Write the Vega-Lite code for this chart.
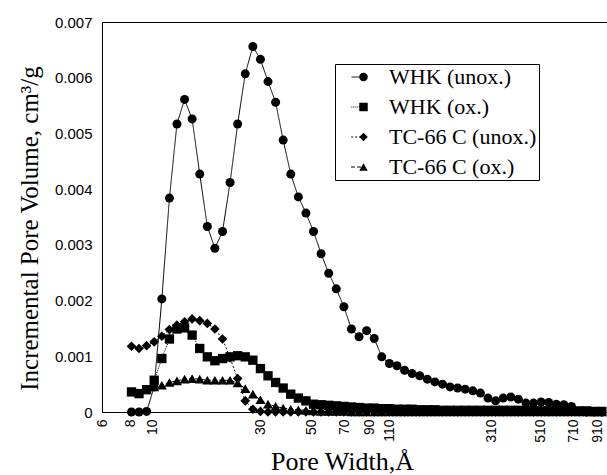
{
  "$schema": "https://vega.github.io/schema/vega-lite/v6.json",
  "width": 505,
  "height": 390,
  "autosize": {"type": "none"},
  "padding": {"left": 102, "top": 22, "right": 0, "bottom": 63},
  "background": "white",
  "config": {
    "view": {"stroke": "black", "strokeWidth": 1},
    "axis": {"grid": false, "domainColor": "black", "domainWidth": 1, "ticks": false, "labelColor": "black", "titleColor": "black", "labelFont": "Liberation Sans", "labelFontSize": 14, "titleFont": "Liberation Serif", "titleFontSize": 25, "titleFontWeight": "normal"}
  },
  "data": {"values": [
    {"w": 8.09, "a": 0, "b": 0.00036, "c": 0.00118, "d": null},
    {"w": 8.73, "a": 0, "b": 0.00033, "c": 0.00114, "d": null},
    {"w": 9.43, "a": 0.00001, "b": 0.0004, "c": 0.00119, "d": null},
    {"w": 10.18, "a": 0.00045, "b": 0.00057, "c": 0.00126, "d": 0.00045},
    {"w": 11.0, "a": 0.00203, "b": 0.00096, "c": 0.00136, "d": 0.00048},
    {"w": 11.88, "a": 0.00384, "b": 0.00131, "c": 0.00148, "d": 0.00053},
    {"w": 12.82, "a": 0.00517, "b": 0.00149, "c": 0.00156, "d": 0.00056},
    {"w": 13.85, "a": 0.00561, "b": 0.00151, "c": 0.00162, "d": 0.00059},
    {"w": 14.95, "a": 0.00526, "b": 0.00138, "c": 0.00167, "d": 0.0006},
    {"w": 16.15, "a": 0.00427, "b": 0.00114, "c": 0.00164, "d": 0.00059},
    {"w": 17.44, "a": 0.00333, "b": 0.00099, "c": 0.00159, "d": 0.00057},
    {"w": 18.83, "a": 0.00294, "b": 0.00092, "c": 0.00149, "d": 0.00057},
    {"w": 20.34, "a": 0.00324, "b": 0.00096, "c": 0.00131, "d": 0.00057},
    {"w": 21.96, "a": 0.00412, "b": 0.00099, "c": 0.00097, "d": 0.00057},
    {"w": 23.71, "a": 0.00517, "b": 0.00101, "c": 0.0006, "d": 0.00052},
    {"w": 25.61, "a": 0.00607, "b": 0.00099, "c": 0.0002, "d": 0.00042},
    {"w": 27.66, "a": 0.00656, "b": 0.00093, "c": 0.00005, "d": 0.00032},
    {"w": 29.87, "a": 0.00633, "b": 0.00078, "c": 0.00001, "d": 0.00022},
    {"w": 32.25, "a": 0.00593, "b": 0.00065, "c": 0, "d": 0.00014},
    {"w": 34.83, "a": 0.00556, "b": 0.00053, "c": 0, "d": 0.0001},
    {"w": 37.61, "a": 0.00488, "b": 0.00043, "c": 0, "d": 0.00007},
    {"w": 40.61, "a": 0.00427, "b": 0.00032, "c": 0, "d": 0.00005},
    {"w": 43.86, "a": 0.00386, "b": 0.00025, "c": 0, "d": 0.00004},
    {"w": 47.36, "a": 0.00357, "b": 0.0002, "c": 0, "d": 0.00003},
    {"w": 51.14, "a": 0.00324, "b": 0.00014, "c": 0, "d": 0.00002},
    {"w": 55.23, "a": 0.00284, "b": 0.00013, "c": 0, "d": 0.00001},
    {"w": 59.64, "a": 0.00249, "b": 0.00012, "c": 0, "d": 0.00001},
    {"w": 64.4, "a": 0.00221, "b": 0.00011, "c": 0, "d": 0.00001},
    {"w": 69.55, "a": 0.00189, "b": 0.0001, "c": 0, "d": 0.00001},
    {"w": 75.1, "a": 0.00149, "b": 0.00009, "c": 0, "d": 0},
    {"w": 81.1, "a": 0.00135, "b": 0.00008, "c": 0, "d": 0},
    {"w": 87.58, "a": 0.00146, "b": 0.00007, "c": 0, "d": 0},
    {"w": 94.58, "a": 0.00132, "b": 0.00007, "c": 0, "d": 0},
    {"w": 102.1, "a": 0.00099, "b": 0.00006, "c": 0, "d": 0},
    {"w": 110.3, "a": 0.00087, "b": 0.00006, "c": 0, "d": 0},
    {"w": 119.1, "a": 0.00083, "b": 0.00005, "c": 0, "d": 0},
    {"w": 128.6, "a": 0.00075, "b": 0.00005, "c": 0, "d": 0},
    {"w": 138.9, "a": 0.00069, "b": 0.00005, "c": 0, "d": 0},
    {"w": 150.0, "a": 0.00065, "b": 0.00004, "c": 0, "d": 0},
    {"w": 162.0, "a": 0.00059, "b": 0.00004, "c": 0, "d": 0},
    {"w": 174.9, "a": 0.00054, "b": 0.00004, "c": 0, "d": 0},
    {"w": 188.9, "a": 0.0005, "b": 0.00003, "c": 0, "d": 0},
    {"w": 203.9, "a": 0.00045, "b": 0.00003, "c": 0, "d": 0},
    {"w": 220.3, "a": 0.00043, "b": 0.00003, "c": 0, "d": 0},
    {"w": 237.8, "a": 0.00041, "b": 0.00003, "c": 0, "d": 0},
    {"w": 256.8, "a": 0.00038, "b": 0.00003, "c": 0, "d": 0},
    {"w": 277.4, "a": 0.00034, "b": 0.00003, "c": 0, "d": 0},
    {"w": 299.5, "a": 0.00025, "b": 0.00003, "c": 0, "d": 0},
    {"w": 323.5, "a": 0.0002, "b": 0.00003, "c": 0, "d": 0},
    {"w": 349.3, "a": 0.00025, "b": 0.00003, "c": 0, "d": 0},
    {"w": 377.2, "a": 0.00027, "b": 0.00003, "c": 0, "d": 0},
    {"w": 407.4, "a": 0.00023, "b": 0.00003, "c": 0, "d": 0},
    {"w": 439.9, "a": 0.00016, "b": 0.00002, "c": 0, "d": 0},
    {"w": 475.1, "a": 0.00016, "b": 0.00002, "c": 0, "d": 0},
    {"w": 513.0, "a": 0.00018, "b": 0.00002, "c": 0, "d": 0},
    {"w": 554.0, "a": 0.00017, "b": 0.00002, "c": 0, "d": 0},
    {"w": 598.3, "a": 0.00014, "b": 0.00002, "c": 0, "d": 0},
    {"w": 646.1, "a": 0.00013, "b": 0.00002, "c": 0, "d": 0},
    {"w": 697.6, "a": 0.0001, "b": 0.00002, "c": 0, "d": 0},
    {"w": 753.4, "a": 0.00001, "b": 0.00002, "c": 0, "d": 0},
    {"w": 813.6, "a": 0, "b": 0.00002, "c": 0, "d": 0},
    {"w": 878.5, "a": 0, "b": 0.00001, "c": 0, "d": 0},
    {"w": 948.7, "a": 0, "b": 0.00001, "c": 0, "d": 0}
  ]},
  "transform": [{"fold": ["a", "b", "c", "d"], "as": ["s", "v"]}],
  "encoding": {
    "x": {
      "field": "w", "type": "quantitative",
      "scale": {"type": "log", "domain": [6, 1000]},
      "axis": {"values": [6, 8, 10, 30, 50, 70, 90, 110, 310, 510, 710, 910], "labelExpr": "'' + datum.value", "labelAngle": 270, "labelPadding": 7, "title": "Pore Width,Å", "titleFontSize": 26, "titleBaseline": "alphabetic", "titleY": 57, "titleX": 240}
    },
    "y": {
      "field": "v", "type": "quantitative",
      "scale": {"domain": [0, 0.007]},
      "axis": {"values": [0, 0.001, 0.002, 0.003, 0.004, 0.005, 0.006, 0.007], "format": ".3~f", "labelFontSize": 15, "labelPadding": 10, "title": "Incremental Pore Volume, cm³/g", "titlePadding": 12, "titleY": 206}
    }
  },
  "layer": [
    {
      "mark": {"type": "line", "color": "black", "strokeWidth": 1},
      "encoding": {
        "strokeDash": {
          "field": "s", "type": "nominal",
          "scale": {"domain": ["a", "b", "c", "d"], "range": [[1, 0], [1, 1], [2, 2], [4, 2]]},
          "legend": {
            "title": null, "orient": "none", "legendX": 233, "legendY": 42, "zindex": 0,
            "labelExpr": "datum.value === 'a' ? 'WHK (unox.)' : datum.value === 'b' ? 'WHK (ox.)' : datum.value === 'c' ? 'TC-66 C (unox.)' : 'TC-66 C (ox.)'",
            "labelFont": "Liberation Serif", "labelFontSize": 22, "labelColor": "black", "labelLimit": 300,
            "symbolType": "stroke", "symbolSize": 1369, "symbolStrokeWidth": 1, "symbolStrokeColor": "black",
            "strokeColor": "black", "fillColor": "white", "padding": 2, "rowPadding": 8, "symbolOffset": 8, "labelOffset": 22, "cornerRadius": 0
          }
        }
      }
    },
    {
      "mark": {"type": "point", "filled": true, "color": "black", "opacity": 1},
      "encoding": {
        "shape": {
          "field": "s", "type": "nominal",
          "scale": {"domain": ["d", "c", "b", "a"], "range": ["triangle-up", "diamond", "square", "circle"]},
          "legend": {
            "title": null, "orient": "none", "legendX": 233, "legendY": 42, "zindex": 1, "values": ["a", "b", "c", "d"],
            "labelExpr": "' '",
            "labelFont": "Liberation Serif", "labelFontSize": 22, "labelLimit": 300,
            "symbolSize": 72, "symbolStrokeWidth": 0, "symbolFillColor": "black", "symbolStrokeColor": "black", "symbolOpacity": 1,
            "padding": 2, "rowPadding": 8, "symbolOffset": 15.5, "labelOffset": 22
          }
        },
        "size": {"field": "s", "type": "ordinal", "scale": {"domain": ["a", "b", "c", "d"], "range": [81, 100, 64, 72]}, "legend": null}
      }
    }
  ]
}
